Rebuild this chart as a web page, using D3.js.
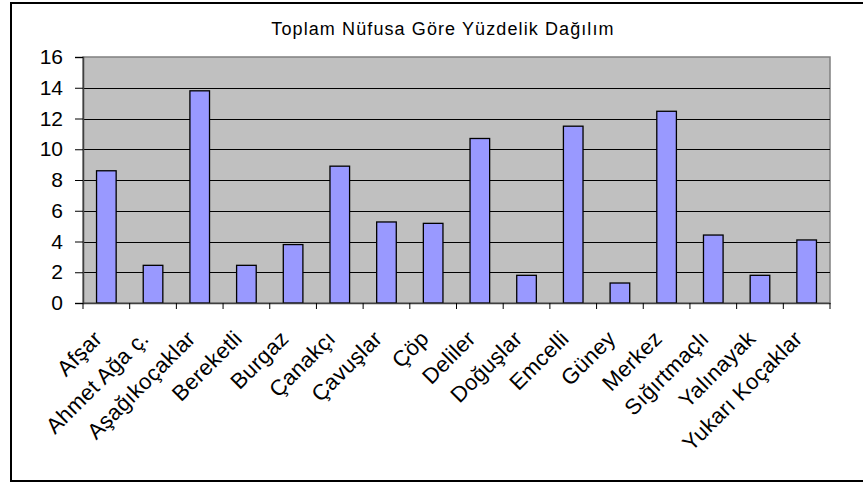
<!DOCTYPE html>
<html><head><meta charset="utf-8">
<script src="https://cdn.jsdelivr.net/npm/d3@7"></script>
<style>body{margin:0;background:#fff}svg{display:block}</style>
</head><body>
<script>
const title = "Toplam Nüfusa Göre Yüzdelik Dağılım";
const categories = ["Afşar","Ahmet Ağa ç.","Aşağıkoçaklar","Bereketli","Burgaz","Çanakçı","Çavuşlar","Çöp","Deliler","Doğuşlar","Emcelli","Güney","Merkez","Sığırtmaçlı","Yalınayak","Yukarı Koçaklar"];
const values = [8.6,2.45,13.8,2.45,3.8,8.9,5.27,5.18,10.7,1.8,11.5,1.3,12.47,4.42,1.8,4.1];
const yTicks = [0,2,4,6,8,10,12,14,16];

const W = 863, H = 485;
const m = {left:83, top:57, right:830, bottom:303};
const svg = d3.select("body").append("svg").attr("width",W).attr("height",H);
const font = "Liberation Sans, Arial, sans-serif";

// outer frame
svg.append("rect").attr("x",11).attr("y",3).attr("width",870).attr("height",478)
  .attr("fill","#fff").attr("stroke","#000").attr("stroke-width",2);

svg.append("text").attr("x",443).attr("y",35).attr("text-anchor","middle")
  .attr("font-family",font).attr("font-size",18).attr("letter-spacing",1.1).text(title);

const x = d3.scaleBand().domain(categories).range([m.left,m.right]).paddingInner(0.58).paddingOuter(0.29);
const xb = d3.scaleBand().domain(categories).range([m.left,m.right]);
const y = d3.scaleLinear().domain([0,16]).range([m.bottom,m.top]);

svg.append("rect").attr("x",m.left).attr("y",m.top).attr("width",m.right-m.left).attr("height",m.bottom-m.top)
  .attr("fill","#c0c0c0").attr("stroke","#808080").attr("stroke-width",1.5);

svg.append("g").selectAll("line").data(yTicks.filter(d=>d>0&&d<16)).join("line")
  .attr("x1",m.left).attr("x2",m.right).attr("y1",d=>Math.round(y(d))+0.5).attr("y2",d=>Math.round(y(d))+0.5)
  .attr("stroke","#000").attr("stroke-width",1);

svg.append("g").selectAll("rect").data(categories).join("rect")
  .attr("x",(d)=>x(d)).attr("width",x.bandwidth())
  .attr("y",(d,i)=>y(values[i])).attr("height",(d,i)=>y(0)-y(values[i]))
  .attr("fill","#9999ff").attr("stroke","#000").attr("stroke-width",1.3);

// y axis
const ya = svg.append("g").attr("transform",`translate(${m.left},0)`)
  .call(d3.axisLeft(y).tickValues(yTicks).tickSize(8).tickPadding(12));
ya.select(".domain").attr("stroke","#404040").attr("stroke-width",1.5);
ya.selectAll(".tick line").attr("stroke","#000");
ya.selectAll("text").attr("font-family",font).attr("font-size",21).attr("fill","#000");

// x axis
const xa = svg.append("g").attr("transform",`translate(0,${m.bottom})`)
  .call(d3.axisBottom(xb).tickSize(0).tickFormat(""));
xa.select(".domain").attr("stroke","#404040").attr("stroke-width",1.5);
const bounds = categories.map(c=>xb(c)).concat([m.right]);
svg.append("g").selectAll("line").data(bounds).join("line")
  .attr("x1",d=>d).attr("x2",d=>d).attr("y1",m.bottom).attr("y2",m.bottom+6).attr("stroke","#000");

svg.append("g").selectAll("text").data(categories).join("text")
  .attr("transform",d=>`translate(${xb(d)+xb.bandwidth()/2-3},${m.bottom+37}) rotate(-45)`)
  .attr("text-anchor","end").attr("font-family",font).attr("font-size",22).attr("letter-spacing",0.3).text(d=>d);
</script>
</body></html>
